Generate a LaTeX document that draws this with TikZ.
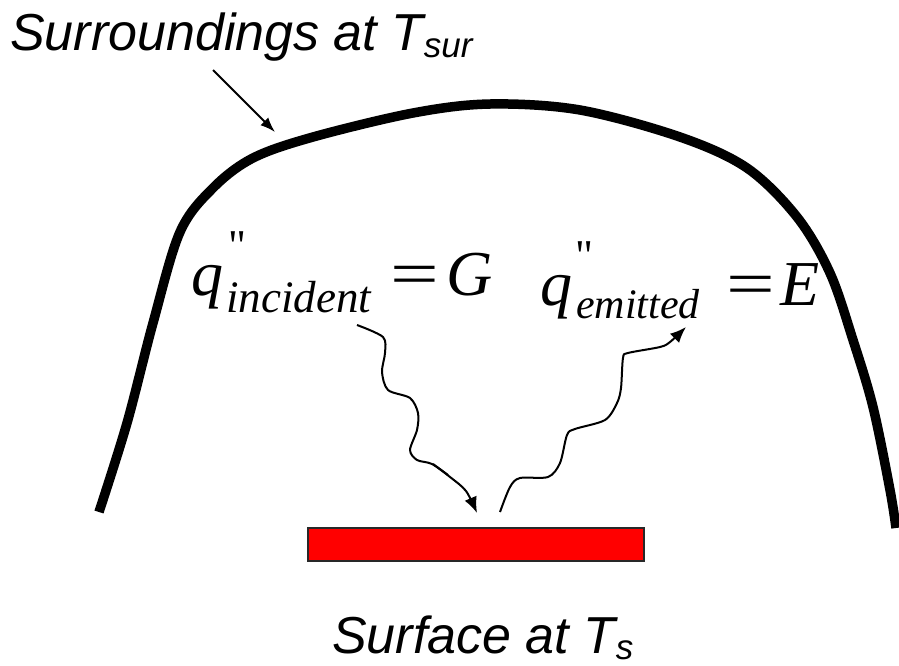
\documentclass[tikz,border=0pt]{standalone}
\usepackage{fontspec}
\setmainfont{Liberation Sans}
\newfontfamily\tms{Liberation Serif}
\usetikzlibrary{arrows.meta}
\begin{document}
\begin{tikzpicture}[x=1pt,y=-1pt,
  lbl/.style={inner sep=0pt, anchor=base west, font=\itshape\fontsize{#1}{60}\selectfont},
  lblsub/.style={inner sep=0pt, anchor=base west, font=\itshape\fontsize{35}{40}\selectfont},
  eqmain/.style={inner sep=0pt, anchor=base west, font=\tms\itshape\fontsize{64}{70}\selectfont},
  eqrel/.style={inner sep=0pt, anchor=base, font=\tms\fontsize{64}{70}\selectfont},
  eqsub/.style={inner sep=0pt, anchor=base west, font=\tms\itshape\fontsize{#1}{50}\selectfont},
  eqprime/.style={inner sep=0pt, font=\tms\fontsize{44}{44}\selectfont},
  wave/.style={line width=2pt, line join=round, -{Latex[length=16pt,width=13pt]}},
  dome/.style={line width=9.5pt},
  surfbox/.style={draw={rgb,255:red,40;green,40;blue,40}, line width=1.3pt, fill=red, inner sep=0pt, minimum width=336pt, minimum height=33pt}]
\useasboundingbox (0,0) rectangle (899,665);

% surroundings (dome)
\draw[dome] plot[smooth, tension=0.55] coordinates {(99,512) (127,423) (153,323) (180,232) (213,188) (253,158) (313,137) (413,113) (490,104) (580,110) (680,137) (747,168) (797,217) (830,273) (853,340) (873,407) (890,490) (896,528)};

% label of surroundings
\node[lbl=52] (sur) at (10,50) {Surroundings at T};
\node[lblsub] (sursub) at ([yshift=-7pt]sur.base east) {sur};
\coordinate (ptrstart) at (213,70);
\coordinate (ptrend) at (275,132);
\draw[line width=1.8pt, -{Latex[length=15pt,width=11pt]}] (ptrstart) -- (ptrend);

% surface
\node[surfbox] (surf) at (476,544.5) {};
\node[lbl=52] (surftxt) at (332,653) {Surface at T};
\node[lblsub] (surfsub) at ([yshift=-6pt]surftxt.base east) {s};

% incident equation
\node[eqmain] (q1) at (191,295) {q};
\node[eqsub=45] (s1) at (226,312) {incident};
\node[eqprime] (p1) at (237,246) {"};
\node[eqrel] (eq1) at (415,295) {\scalebox{1.35}[1]{=}};
\node[eqmain] (G) at (446,295) {G};

% emitted equation
\node[eqmain] (q2) at (540,305) {q};
\node[eqsub=42] (s2) at (576,318) {emitted};
\node[eqprime] (p2) at (584,256) {"};
\node[eqrel] (eq2) at (751,305) {\scalebox{1.35}[1]{=}};
\node[eqmain] (E) at (780,305) {E};

% incident ray
\coordinate (inc0) at (357,325);
\coordinate (inc1) at (477,513);
\draw[wave] plot[smooth, tension=0.5] coordinates {(inc0) (383,337) (385,353) (382,372) (388,390) (410,398) (418,413) (417,430) (410,450) (417,460) (432,464) (450,477) (466,491) (inc1)};
\draw[line width=2pt] (433,464) -- (448,475);

% emitted ray
\coordinate (em0) at (500,512);
\coordinate (em1) at (686,327);
\draw[wave] plot[smooth, tension=0.5] coordinates {(em0) (510,487) (520,478) (548,477) (560,463) (567,435) (575,429) (605,420) (617,403) (621,388) (623,358) (628,353) (660,347) (670,342) (em1)};
\end{tikzpicture}
\end{document}
